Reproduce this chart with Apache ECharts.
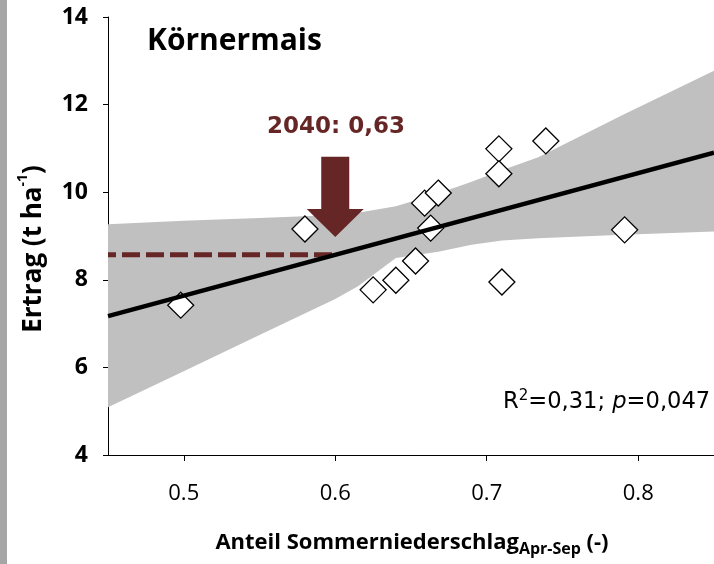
<!DOCTYPE html>
<html><head><meta charset="utf-8">
<script src="https://cdn.jsdelivr.net/npm/echarts@6/dist/echarts.min.js"></script>
<style>html,body{margin:0;padding:0;background:#fff}#c{width:714px;height:564px}</style>
</head><body><div id="c"></div>
<script>
// ---- data ----
const pointsX = [0.498, 0.580, 0.625, 0.640, 0.653, 0.659, 0.663, 0.668, 0.708, 0.708, 0.710, 0.739, 0.791];
const pointsY = [7.42, 9.16, 7.77, 7.99, 8.43, 9.75, 9.18, 9.98, 10.99, 10.42, 7.95, 11.17, 9.14];
const regX = [0.45, 0.85];
const regY = [7.17, 10.90];
const bandX     = [0.45, 0.50, 0.55, 0.60, 0.615, 0.64, 0.668, 0.69, 0.71, 0.734, 0.79, 0.85];
const bandUpper = [9.27, 9.35, 9.41, 9.48, 9.53, 9.68, 9.97, 10.24, 10.50, 10.80, 11.77, 12.77];
const bandLower = [5.09, 5.91, 6.74, 7.56, 7.85, 8.50, 8.64, 8.80, 8.90, 8.95, 9.03, 9.10];
const scenarioX = [0.45, 0.60];
const scenarioY = [8.57, 8.57];
const arrowX = [0.60];
const arrowTop = [10.81];
const arrowTip = [8.98];
const xTicks = [0.5, 0.6, 0.7, 0.8];
const yTicks = [4, 6, 8, 10, 12, 14];

const MAROON = '#662626';
const chart = echarts.init(document.getElementById('c'), null, {renderer: 'canvas'});

const bandData = bandX.map((x, i) => [x, bandLower[i], bandUpper[i]]);

chart.setOption({
  animation: false,
  backgroundColor: '#fff',
  grid: {left: 108, top: 17, width: 608, height: 438, containLabel: false},
  xAxis: {
    type: 'value', min: 0.45, max: 0.85,
    axisLine: {show: true, lineStyle: {color: '#000', width: 1}},
    axisTick: {show: true, inside: false, length: 6, customValues: xTicks, lineStyle: {color: '#000'}},
    axisLabel: {customValues: xTicks, formatter: v => v.toFixed(1), margin: 28,
      fontFamily: '"Open Sans"', fontSize: 22, color: '#000'},
    splitLine: {show: false}
  },
  yAxis: {
    type: 'value', min: yTicks[0], max: yTicks[yTicks.length - 1], interval: 2,
    axisLine: {show: true, lineStyle: {color: '#000', width: 1}},
    axisTick: {show: true, inside: false, length: 5, lineStyle: {color: '#000'}},
    axisLabel: {margin: 20, fontFamily: '"Open Sans"', fontWeight: 'bold', fontSize: 23, color: '#000'},
    splitLine: {show: false}
  },
  series: [
    {
      type: 'custom', z: 1, silent: true,
      data: bandData,
      renderItem: function (params, api) {
        if (params.dataIndex !== 0) return null;
        const up = bandX.map((x, i) => api.coord([x, bandUpper[i]]));
        const lo = bandX.map((x, i) => api.coord([x, bandLower[i]])).reverse();
        return {type: 'polygon', shape: {points: up.concat(lo)}, style: {fill: '#c0c0c0'}};
      }
    },
    {
      type: 'line', z: 2, silent: true, symbol: 'none',
      data: scenarioX.map((x, i) => [x, scenarioY[i]]),
      lineStyle: {color: MAROON, width: 5, type: [18, 6], dashOffset: 10, cap: 'butt'}
    },
    {
      type: 'custom', z: 3, silent: true,
      data: arrowX.map((x, i) => [x, arrowTop[i], arrowTip[i]]),
      renderItem: function (params, api) {
        const top = api.coord([api.value(0), api.value(1)]);
        const tip = api.coord([api.value(0), api.value(2)]);
        const sw = 14, hw = 28.5, hh = 28;
        const cx = tip[0];
        const pts = [
          [cx - sw, top[1]], [cx + sw, top[1]], [cx + sw, tip[1] - hh], [cx + hw, tip[1] - hh],
          [cx, tip[1]], [cx - hw, tip[1] - hh], [cx - sw, tip[1] - hh]
        ];
        return {type: 'polygon', shape: {points: pts}, style: {fill: MAROON}};
      }
    },
    {
      type: 'scatter', z: 4, silent: true,
      symbol: 'diamond', symbolSize: 26,
      data: pointsX.map((x, i) => [x, pointsY[i]]),
      itemStyle: {color: '#fff', borderColor: '#000', borderWidth: 1.3, opacity: 1}
    },
    {
      type: 'line', z: 5, silent: true, symbol: 'none',
      data: regX.map((x, i) => [x, regY[i]]),
      lineStyle: {color: '#000', width: 4.5}
    }
  ],
  graphic: [
    {type: 'rect', shape: {x: 0, y: 0, width: 7, height: 564}, style: {fill: '#a6a6a6'}, silent: true},
    {type: 'text', x: 147, y: 41, silent: true,
      style: {text: 'Körnermais', font: 'bold 30px "Open Sans"', fill: '#000', align: 'left', verticalAlign: 'middle'}},
    {type: 'text', x: 336, y: 127, silent: true,
      style: {text: '2040: 0,63', font: 'bold 23px "DejaVu Sans"', fill: MAROON, align: 'center', verticalAlign: 'middle'}},
    {type: 'text', x: 503, y: 402, silent: true,
      style: {
        text: '{n|R}{s|2}{n|=0,31; }{i|p}{n|=0,047}', align: 'left', verticalAlign: 'middle',
        rich: {
          n: {fontFamily: '"DejaVu Sans"', fontSize: 22.6, fill: '#000', lineHeight: 26, verticalAlign: 'middle'},
          i: {fontFamily: '"DejaVu Sans"', fontStyle: 'italic', fontSize: 22.6, fill: '#000', lineHeight: 26, verticalAlign: 'middle'},
          s: {fontFamily: '"DejaVu Sans"', fontSize: 15, fill: '#000', lineHeight: 16, padding: [0, 0, 12, 0], verticalAlign: 'middle'}
        }
      }},
    {type: 'text', x: 34, y: 249, rotation: Math.PI / 2, silent: true,
      style: {
        text: '{n|Ertrag (t ha}{s|-1}{n|)}', align: 'center', verticalAlign: 'middle',
        rich: {
          n: {fontFamily: '"Open Sans"', fontWeight: 'bold', fontSize: 26, fill: '#000', lineHeight: 30, verticalAlign: 'middle'},
          s: {fontFamily: '"Open Sans"', fontWeight: 'bold', fontSize: 14, fill: '#000', lineHeight: 16, padding: [0, 0, 22, 0], verticalAlign: 'middle'}
        }
      }},
    {type: 'text', x: 412, y: 543, silent: true,
      style: {
        text: '{n|Anteil Sommerniederschlag}{s|Apr-Sep}{n| (-)}', align: 'center', verticalAlign: 'middle',
        rich: {
          n: {fontFamily: '"Open Sans"', fontWeight: 'bold', fontSize: 22, fill: '#000', lineHeight: 28, verticalAlign: 'middle'},
          s: {fontFamily: '"Open Sans"', fontWeight: 'bold', fontSize: 16, fill: '#000', lineHeight: 18, padding: [13, 0, 0, 0], verticalAlign: 'middle'}
        }
      }}
  ]
});
</script>
</body></html>
